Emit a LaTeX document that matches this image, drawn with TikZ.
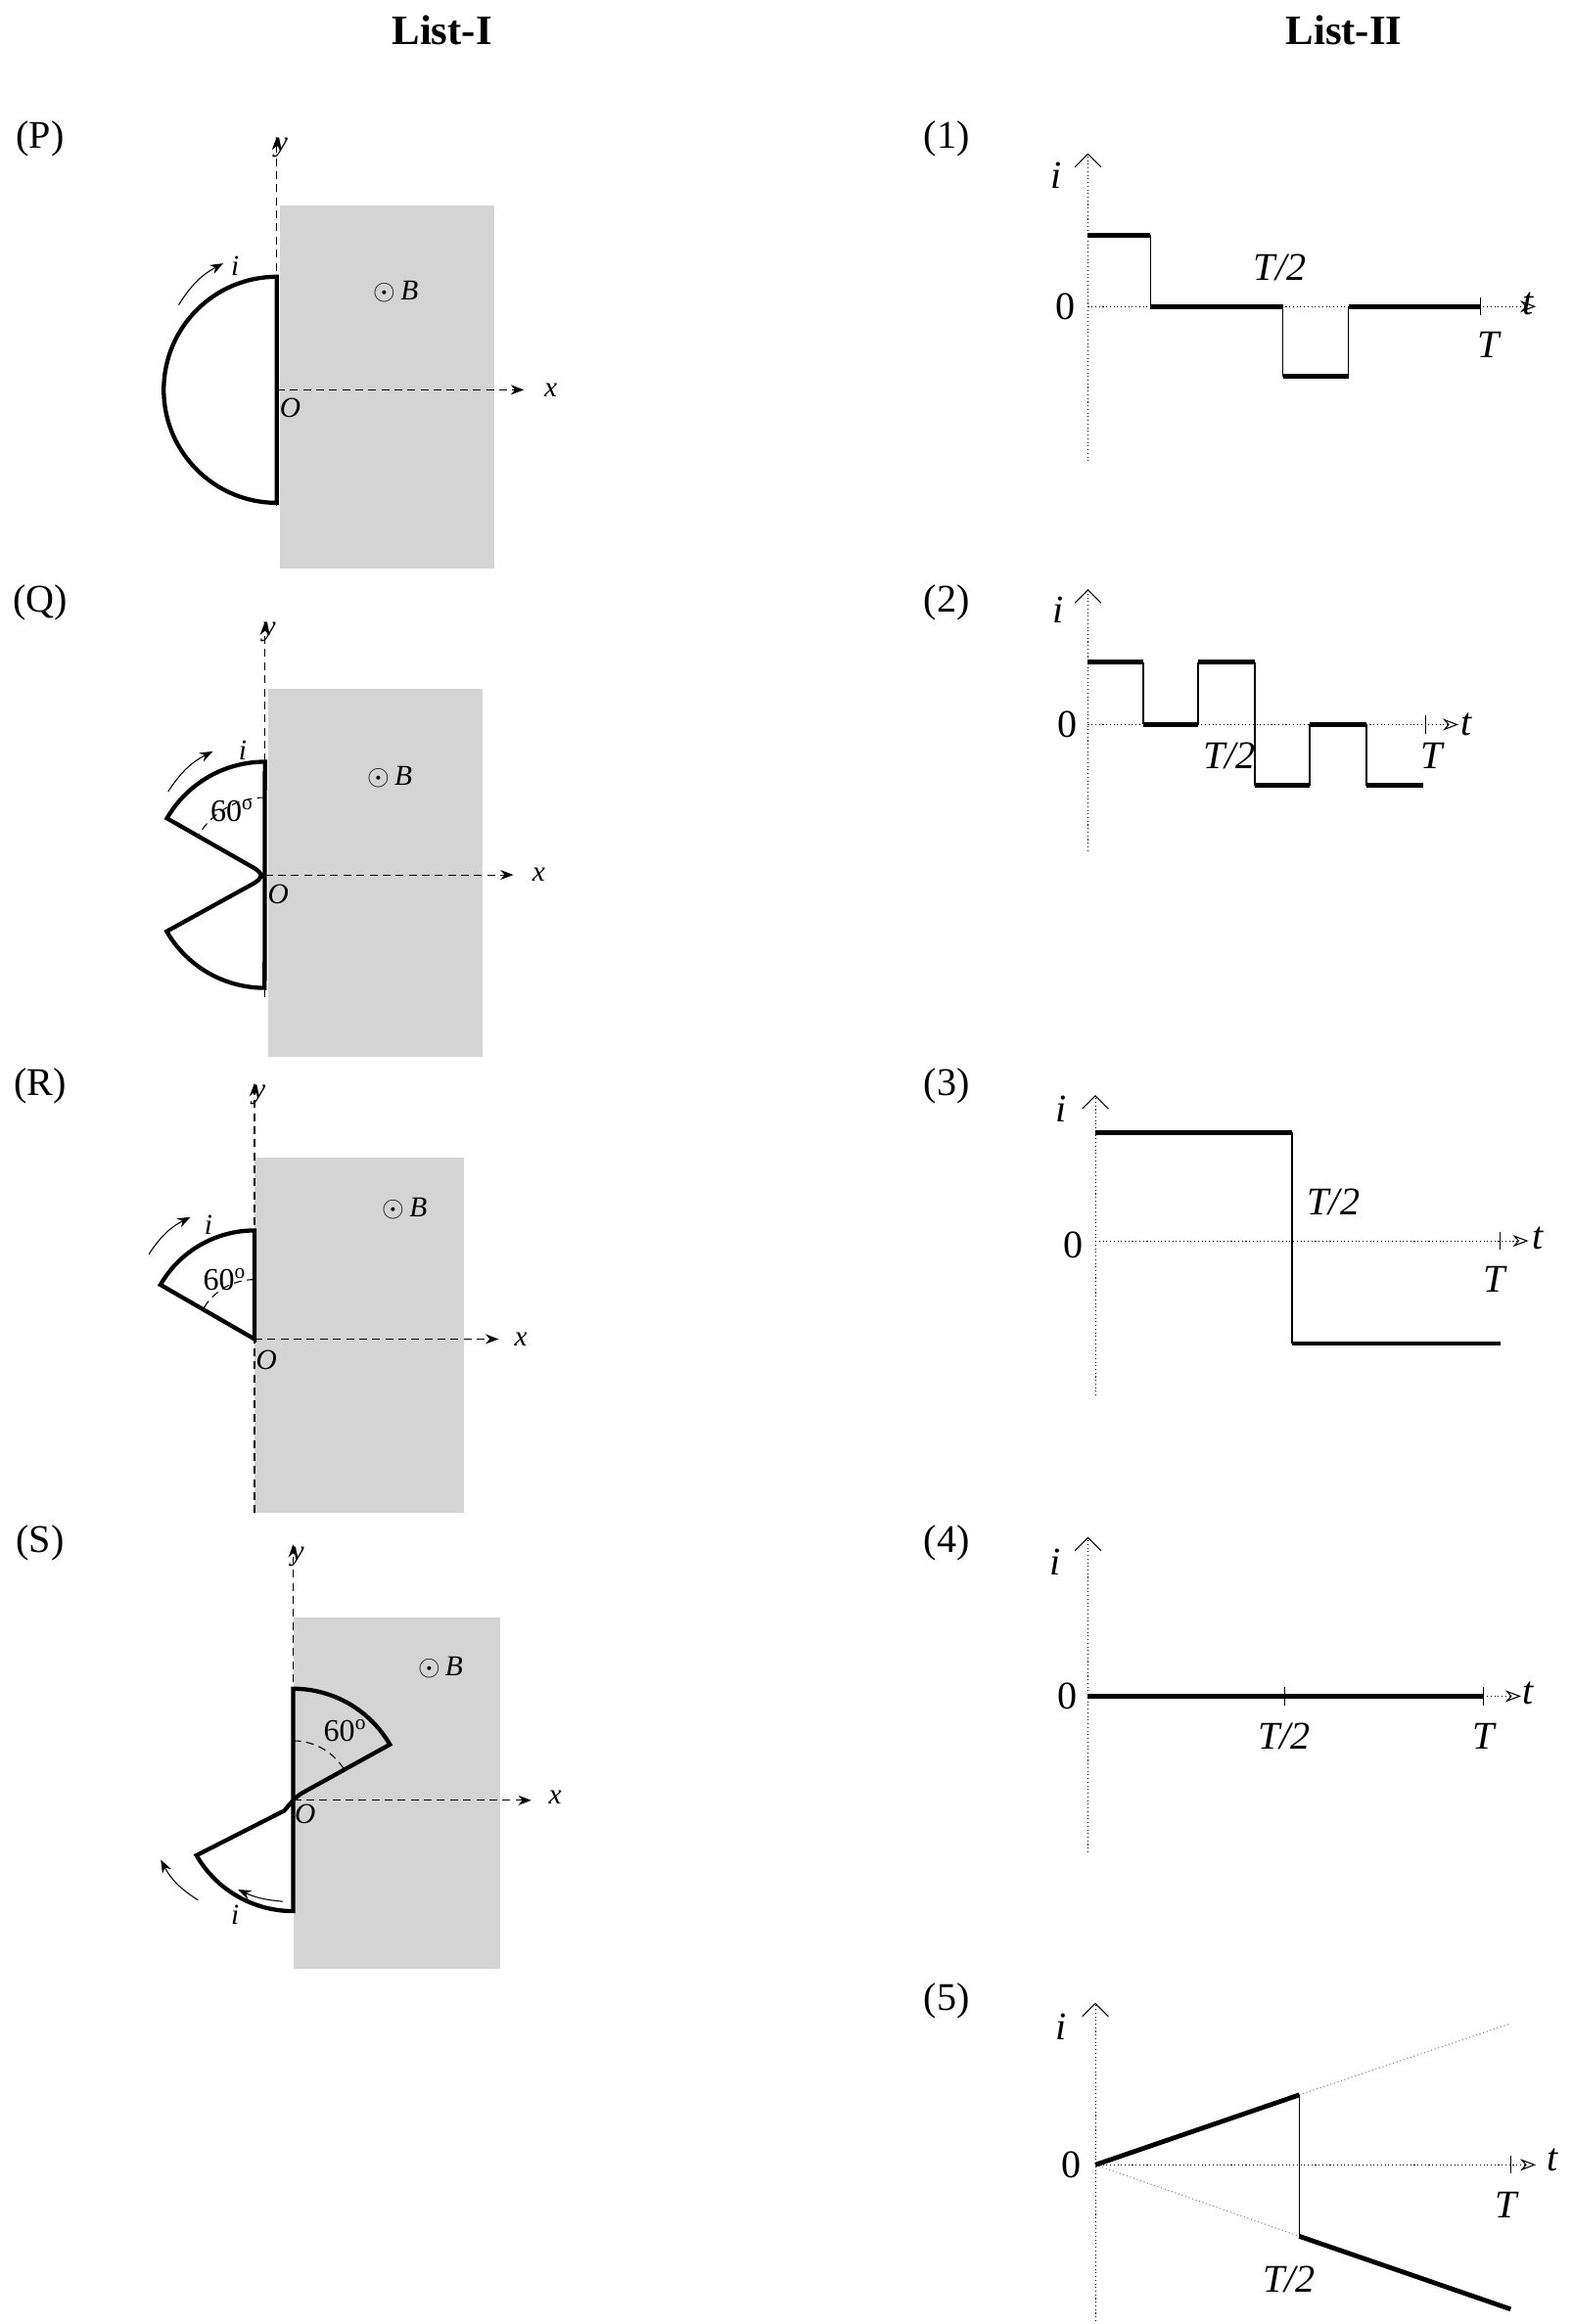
\documentclass[tikz,border=0pt]{standalone}
\usepackage{fontspec}
\setmainfont{Liberation Serif}
\usetikzlibrary{arrows.meta}
\tikzset{
    wire/.style={line width=1.6pt},
    axis/.style={densely dashed, -{Stealth[length=5pt]}},
    gaxis/.style={densely dotted, -{Stealth[length=6pt,open]}},
    gyaxis/.style={densely dotted, -{Straight Barb[length=5pt]}},
    sig/.style={line width=1.8pt},
    jump/.style={line width=0.6pt},
    field/.style={fill=black!17, draw=none},
    lbl/.style={font=\fontsize{15}{18}\selectfont},
    head/.style={font=\fontsize{16}{18}\selectfont\bfseries},
    sm/.style={font=\fontsize{11}{13}\selectfont\itshape},
    gl/.style={font=\fontsize{15}{18}\selectfont\itshape},
    turn/.style={-{Stealth[length=5pt]}, thin}
}
\begin{document}
\begin{tikzpicture}[x=0.02cm, y=-0.02cm]
    \useasboundingbox (0,0) rectangle (1056,1562);
    % headers
    \node[head] at (297,20) {List-I};
    \node[head] at (903,20) {List-II};
    \foreach \t/\y in {P/93,Q/405,R/730,S/1037} {
        \node[lbl] at (27,\y) {(\t)};
    }
    \foreach \t/\y in {1/93,2/405,3/730,4/1037,5/1345} {
        \node[lbl] at (636,\y) {(\t)};
    }
    % --- (P)
    \fill[field] (188,138) rectangle (332,382);
    \draw[axis] (186,340) -- (186,92);
    \draw[axis] (186,262) -- (352,262);
    \node[sm] at (189,99) {y};
    \node[sm] at (370,262) {x};
    \node[sm] at (195,274) {O};
    \node[sm] at (266,196) {$\odot$\,B};
    \draw[wire] (186,186) arc[start angle=90, end angle=270, radius=1.52cm] -- cycle;
    \draw[turn] (120,205) to[bend left=15] (150,177);
    \node[sm] at (158,179) {i};
    % --- (Q)
    \fill[field] (180,463) rectangle (324,710);
    \draw[axis] (178,670) -- (178,418);
    \draw[axis] (178,588) -- (345,588);
    \node[sm] at (181,425) {y};
    \node[sm] at (362,588) {x};
    \node[sm] at (187,601) {O};
    \node[sm] at (262,522) {$\odot$\,B};
    \draw[wire] (178,512) arc[start angle=90, end angle=150, radius=1.52cm]
        -- (170,583) .. controls (177,587) and (177,590) .. (170,594)
        -- (112,626) arc[start angle=210, end angle=270, radius=1.52cm] -- cycle;
    \draw[densely dashed, thin] (178,536) arc[start angle=90, end angle=150, radius=1.04cm];
    \node[font=\fontsize{12}{14}\selectfont] at (156,545) {60$^{\mathrm{o}}$};
    \draw[turn] (113,532) to[bend left=15] (143,505);
    \node[sm] at (163,504) {i};
    % --- (R)
    \fill[field] (171,778) rectangle (312,1017);
    \draw[axis] (171,1017) -- (171,728);
    \draw[axis] (171,900) -- (335,900);
    \node[sm] at (174,736) {y};
    \node[sm] at (350,900) {x};
    \node[sm] at (179,914) {O};
    \node[sm] at (272,812) {$\odot$\,B};
    \draw[wire] (171,827) arc[start angle=90, end angle=150, radius=1.46cm] -- (171,900) -- cycle;
    \draw[densely dashed, thin] (171,860) arc[start angle=90, end angle=150, radius=0.8cm];
    \node[font=\fontsize{12}{14}\selectfont] at (151,860) {60$^{\mathrm{o}}$};
    \draw[turn] (100,843) to[bend left=15] (128,818);
    \node[sm] at (140,823) {i};
    % --- (S)
    \fill[field] (197,1087) rectangle (336,1323);
    \draw[axis] (197,1280) -- (197,1038);
    \draw[axis] (197,1210) -- (357,1210);
    \node[sm] at (200,1046) {y};
    \node[sm] at (373,1208) {x};
    \node[sm] at (205,1219) {O};
    \node[sm] at (296,1121) {$\odot$\,B};
    \draw[wire] (197,1135) arc[start angle=90, end angle=30, radius=1.5cm]
        -- (205,1204) .. controls (199,1207) and (196,1211) .. (191,1217)
        -- (132,1247) arc[start angle=210, end angle=270, radius=1.5cm] -- cycle;
    \draw[densely dashed, thin] (197,1170) arc[start angle=90, end angle=30, radius=0.8cm];
    \node[font=\fontsize{12}{14}\selectfont] at (232,1163) {60$^{\mathrm{o}}$};
    \draw[turn] (133,1277) to[bend left=15] (108,1250);
    \draw[turn] (190,1278) to[bend left=10] (160,1270);
    \node[sm] at (158,1287) {i};
    % --- graph (1)
    \draw[gyaxis] (731,310) -- (731,103);
    \draw[gaxis] (731,206) -- (1032,206);
    \node[gl] at (710,118) {i};
    \node[gl] at (1027,204) {t};
    \node[lbl] at (716,206) {0};
    \draw[sig] (731,158) -- (773,158);
    \draw[jump] (773,158) -- (773,206) (862,206) -- (862,253) (906,253) -- (906,206);
    \draw[sig] (773,206) -- (862,206) (862,253) -- (906,253) (906,206) -- (995,206);
    \draw (995,200) -- (995,212);
    \node[gl] at (860,180) {T/2};
    \node[gl] at (1000,232) {T};
    % --- graph (2)
    \draw[gyaxis] (731,572) -- (731,396);
    \draw[gaxis] (731,487) -- (980,487);
    \node[gl] at (711,410) {i};
    \node[gl] at (985,487) {t};
    \node[lbl] at (717,487) {0};
    \draw[sig] (731,445) -- (768,445) (768,487) -- (805,487) (805,445) -- (843,445)
        (843,528) -- (880,528) (880,487) -- (918,487) (918,528) -- (956,528);
    \draw[jump] (768,445) -- (768,487) (805,487) -- (805,445) (843,445) -- (843,528)
        (880,528) -- (880,487) (918,487) -- (918,528);
    \draw (958,481) -- (958,493);
    \node[gl] at (826,508) {T/2};
    \node[gl] at (962,508) {T};
    % --- graph (3)
    \draw[gyaxis] (736,938) -- (736,736);
    \draw[gaxis] (736,834) -- (1027,834);
    \node[gl] at (713,745) {i};
    \node[gl] at (1033,832) {t};
    \node[lbl] at (721,837) {0};
    \draw[sig] (736,761) -- (868,761) (868,903) -- (1008,903);
    \draw[jump] (868,761) -- (868,903);
    \draw (1008,828) -- (1008,840);
    \node[gl] at (896,808) {T/2};
    \node[gl] at (1004,860) {T};
    % --- graph (4)
    \draw[gyaxis] (731,1245) -- (731,1033);
    \draw[gaxis] (731,1140) -- (1022,1140);
    \draw[sig] (731,1140) -- (997,1140);
    \draw (863,1134) -- (863,1146) (997,1134) -- (997,1146);
    \node[gl] at (709,1050) {i};
    \node[gl] at (1027,1138) {t};
    \node[lbl] at (717,1140) {0};
    \node[gl] at (863,1167) {T/2};
    \node[gl] at (997,1167) {T};
    % --- graph (5)
    \draw[gyaxis] (736,1560) -- (736,1346);
    \draw[gaxis] (736,1455) -- (1032,1455);
    \node[gl] at (713,1362) {i};
    \node[gl] at (1043,1452) {t};
    \node[lbl] at (720,1455) {0};
    \draw[densely dotted, thin, gray] (873,1408) -- (1015,1360) (736,1455) -- (873,1503);
    \draw[sig] (736,1455) -- (873,1408) (873,1503) -- (1015,1552);
    \draw[jump] (873,1408) -- (873,1503);
    \draw (873,1449) -- (873,1461) (1015,1449) -- (1015,1461);
    \node[gl] at (866,1532) {T/2};
    \node[gl] at (1012,1482) {T};
\end{tikzpicture}
\end{document}
